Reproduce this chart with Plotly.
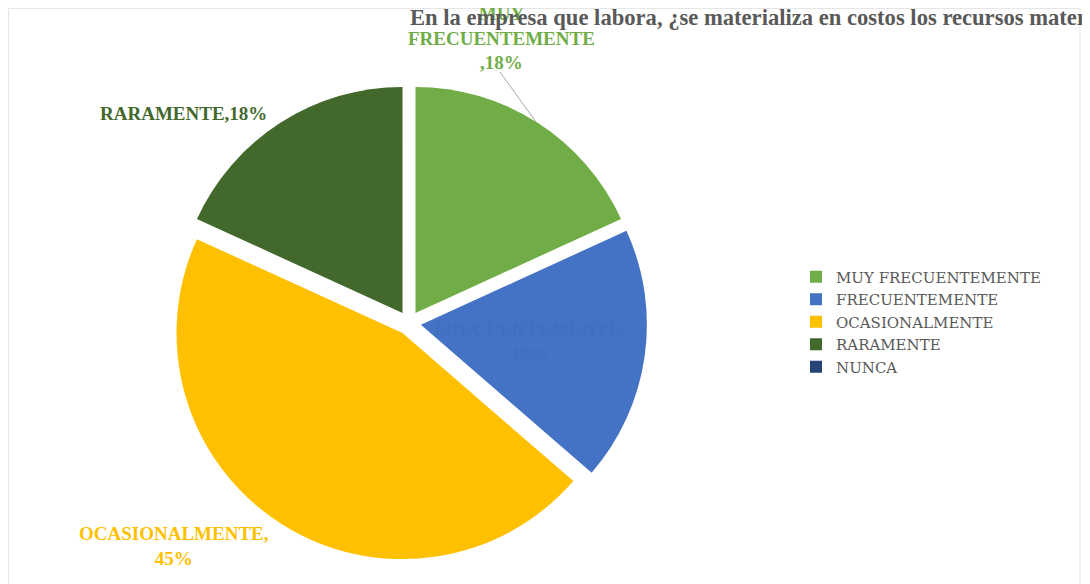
import plotly.graph_objects as go

# Datos de la encuesta
categorias = ["MUY FRECUENTEMENTE", "FRECUENTEMENTE", "OCASIONALMENTE", "RARAMENTE", "NUNCA"]
valores = [2, 2, 5, 2, 0]
colores = ["#70AD47", "#4472C4", "#FFC000", "#43682B", "#264478"]
color_etiquetas = ["#70AD47", "#416FC0", "#FFC000", "#43682B", "#264478"]
titulo = "En la empresa que labora, ¿se materializa en costos los recursos materiales?"

total = sum(valores)
porcentajes = [round(v / total * 100) for v in valores]

W, H = 1090, 584
FUENTE = "Liberation Serif"
OFF = 8  # margen del body de la pagina


# coordenadas de pantalla -> papel
def px(x):
    return (x - OFF) / W


def py(y):
    return 1 - (y - OFF) / H


fig = go.Figure(go.Pie(
    labels=categorias,
    values=valores,
    marker=dict(colors=colores, line=dict(width=0)),
    sort=False,
    direction="clockwise",
    rotation=0,
    pull=[0.053] * len(valores),
    textinfo="none",
    hoverinfo="label+percent",
    domain=dict(x=[px(171), px(647)], y=[py(561), py(85)]),
))

# Etiquetas de datos (posicion aproximada como en el original)
etiquetas = [
    (f"MUY<br>FRECUENTEMENTE<br>,{porcentajes[0]}%", 501, 38),
    (f"FRECUENTEMENTE,<br>{porcentajes[1]}%", 530, 342),
    (f"OCASIONALMENTE,<br>{porcentajes[2]}%", 174, 546),
    (f"RARAMENTE,{porcentajes[3]}%", 183, 113),
]
for i, (txt, x, y) in enumerate(etiquetas):
    fig.add_annotation(
        x=px(x), y=py(y), xref="paper", yref="paper",
        text=f"<b>{txt}</b>", showarrow=False,
        font=dict(family=FUENTE, size=19, color=color_etiquetas[i]),
        align="center", xanchor="center", yanchor="middle",
    )

# Linea guia de la etiqueta verde
fig.add_shape(type="line", xref="paper", yref="paper",
              x0=px(500), y0=py(72), x1=px(536), y1=py(122),
              line=dict(color="#A6A6A6", width=1))

# Borde del area del grafico
fig.add_shape(type="rect", xref="paper", yref="paper",
              x0=px(8.5), y0=py(H + 20), x1=px(1080), y1=py(8.5),
              line=dict(color="#E6E6E6", width=1))

# Titulo (se sale del lienzo como en el original)
fig.add_annotation(
    x=px(408), y=py(18), xref="paper", yref="paper",
    text=f"<b>{titulo}</b>", showarrow=False,
    font=dict(family=FUENTE, size=22.6, color="#595959"),
    xanchor="left", yanchor="middle",
)

fig.update_layout(
    width=W, height=H,
    margin=dict(l=0, r=0, t=0, b=0),
    paper_bgcolor="white",
    plot_bgcolor="white",
    showlegend=True,
    legend=dict(
        x=px(796), y=py(322), xanchor="left", yanchor="middle",
        font=dict(family="DejaVu Serif", size=15, color="#595959"),
        traceorder="normal", bgcolor="rgba(0,0,0,0)",
        itemwidth=30,
    ),
)

fig.write_html("out.html")
